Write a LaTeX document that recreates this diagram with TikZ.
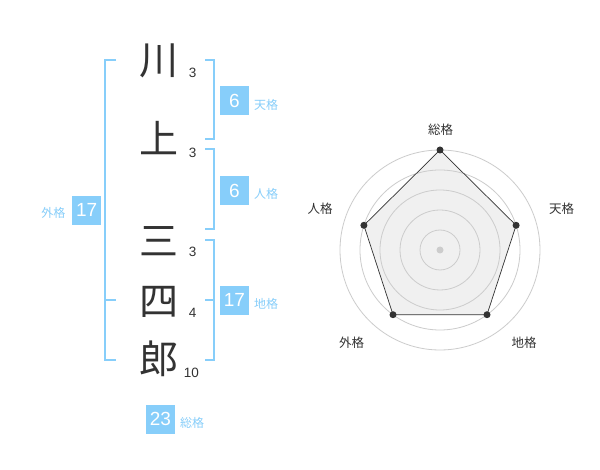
\documentclass[tikz,border=0pt]{standalone}
\usepackage{fontspec}
\setmainfont{Liberation Sans}
\newfontfamily\cjk{Noto Sans CJK JP}
\definecolor{skyb}{HTML}{87CEFA}
\definecolor{ink}{HTML}{333333}
\definecolor{ring}{HTML}{CCCCCC}
\definecolor{area}{HTML}{F0F0F0}
\tikzset{
  bigch/.style={font=\cjk\fontsize{39}{39}\selectfont, text=ink, anchor=base, inner sep=0pt},
  strk/.style={font=\fontsize{13.5}{13.5}\selectfont, text=ink, anchor=base, inner sep=0pt},
  numbox/.style={fill=skyb, text=white, minimum width=29pt, minimum height=29pt, inner sep=0pt, font=\fontsize{19}{19}\selectfont},
  kaku/.style={text=skyb, font=\cjk\fontsize{12}{12}\selectfont, inner sep=0pt},
  bracket/.style={draw=skyb, line width=1.6pt},
  ringst/.style={draw=ring, line width=0.8pt},
  axlab/.style={text=ink, font=\cjk\fontsize{12.5}{12.5}\selectfont, inner sep=0pt},
  vdot/.style={circle, fill=ink, inner sep=0pt, minimum size=7pt},
}
\begin{document}
\begin{tikzpicture}[x=1pt,y=-1pt]
\useasboundingbox (0,0) rectangle (600,470);
\fill[white] (0,0) rectangle (600,470);
% characters
\node[bigch] (c1) at (158.5,74.5) {川};
\node[bigch] (c2) at (159,153.8) {上};
\node[bigch] (c3) at (159,255.8) {三};
\node[bigch] (c4) at (159,315.8) {四};
\node[bigch] (c5) at (158.5,373.8) {郎};
% stroke counts
\node[strk] (s1) at (192.7,77.3) {3};
\node[strk] (s2) at (192.7,157.6) {3};
\node[strk] (s3) at (192.7,256.6) {3};
\node[strk] (s4) at (192.7,317.6) {4};
\node[strk] (s5) at (191.3,377.7) {10};
% brackets
\draw[bracket] (116,60) -- (105,60) -- (105,360) -- (116,360);
\draw[bracket] (105,300) -- (116,300);
\draw[bracket] (205,60) -- (214,60) -- (214,139) -- (205,139);
\draw[bracket] (205,149) -- (214,149) -- (214,229) -- (205,229);
\draw[bracket] (205,240) -- (214,240) -- (214,360) -- (205,360);
\draw[bracket] (205,300) -- (214,300);
% boxes
\node[numbox] (ten) at (234.5,100.5) {6};
\node[kaku] (tenl) at (266,105) {天格};
\node[numbox] (jin) at (234.5,190.5) {6};
\node[kaku] (jinl) at (266,194) {人格};
\node[numbox] (gai) at (86.7,210.3) {17};
\node[kaku] (gail) at (53.3,213) {外格};
\node[numbox] (chi) at (234.5,300.3) {17};
\node[kaku] (chil) at (266,304) {地格};
\node[numbox] (sou) at (160.5,419) {23};
\node[kaku] (soul) at (192,422.7) {総格};
% radar
\coordinate (ctr) at (440,250);
\coordinate (pS) at (440,150);
\coordinate (pT) at (516.1,225.3);
\coordinate (pC) at (487.0,314.7);
\coordinate (pG) at (393.0,314.7);
\coordinate (pJ) at (363.9,225.3);
\fill[area] (pS) -- (pT) -- (pC) -- (pG) -- (pJ) -- cycle;
\foreach \r in {20,40,60,80,100} \draw[ringst] (ctr) circle[radius=\r];
\fill[ring] (ctr) circle[radius=3.5];
\draw[ink, line width=0.7pt] (pS) -- (pT) -- (pC) -- (pG) -- (pJ) -- cycle;
\foreach \p in {pS,pT,pC,pG,pJ} \node[vdot] at (\p) {};
\node[axlab] (aS) at (440.7,130) {総格};
\node[axlab] (aT) at (561.7,208.3) {天格};
\node[axlab] (aJ) at (320,208.3) {人格};
\node[axlab] (aG) at (351.7,342.3) {外格};
\node[axlab] (aC) at (524,342.3) {地格};
\end{tikzpicture}
\end{document}
